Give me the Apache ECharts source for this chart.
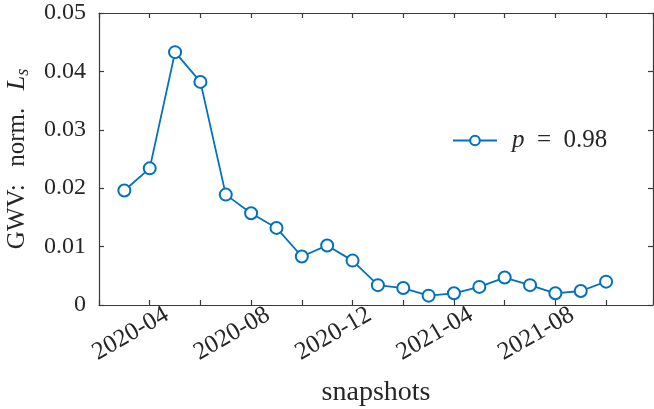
<!DOCTYPE html>
<html>
<head>
<meta charset="utf-8">
<script src="https://cdn.jsdelivr.net/npm/echarts@6/dist/echarts.min.js"></script>
<style>html,body{margin:0;padding:0;background:#fff}#c{width:654px;height:409px}</style>
</head>
<body>
<div id="c"></div>
<script>
// ---- data ----
var months = ['2020-03','2020-04','2020-05','2020-06','2020-07','2020-08','2020-09','2020-10','2020-11','2020-12',
              '2021-01','2021-02','2021-03','2021-04','2021-05','2021-06','2021-07','2021-08','2021-09','2021-10'];
var values = [0.0196,0.0234,0.0433,0.0382,0.0189,0.0157,0.0132,0.0083,0.0102,0.0076,
              0.0034,0.0029,0.0016,0.0020,0.0031,0.0047,0.0034,0.0020,0.0024,0.0040];
var tickLabels = ['2020-04','2020-08','2020-12','2021-04','2021-08'];
var yTicks = [0, 0.01, 0.02, 0.03, 0.04, 0.05];
var seriesName = 'p = 0.98';

// month index relative to 2020-02
function mIdx(s){ var p = s.split('-'); return (+p[0]-2020)*12 + (+p[1]) - 2; }
function mStr(i){ var t = i + 1; var y = 2020 + Math.floor(t/12); var m = t % 12 + 1; return y + '-' + (m<10?'0':'') + m; }

var seriesData = months.map(function(m,i){ return [mIdx(m), values[i]]; });
var XMIN = 0, XMAX = 21.85, SHIFT = 0.67;
var font = 'Liberation Serif';
var axCol = '#3a3a3a', txtCol = '#262626';

var chart = echarts.init(document.getElementById('c'), null, {renderer:'canvas'});
chart.setOption({
  animation:false,
  grid:{left:99, right:1, top:13, bottom:104, containLabel:false, outerBoundsMode:'none'},
  legend:{
    left:447, top:123, orient:'horizontal',
    itemWidth:44, itemHeight:12, itemGap:0,
    data:[seriesName],
    formatter:function(){ return '{i|p}{n|\u2002=\u20020.98}'; },
    textStyle:{padding:[0,0,0,10], rich:{
      i:{fontFamily:font, fontStyle:'italic', fontSize:25, color:txtCol},
      n:{fontFamily:font, fontSize:25, color:txtCol}
    }}
  },
  xAxis:[
    {type:'value', min:XMIN, max:XMAX, interval:2, position:'bottom',
     name:'snapshots', nameLocation:'middle', nameGap:74,
     nameTextStyle:{fontFamily:font, fontSize:28, color:txtCol},
     axisLine:{show:true, onZero:false, lineStyle:{color:axCol, width:1.2}},
     axisTick:{show:true, inside:true, length:5, lineStyle:{color:axCol, width:1.2}},
     axisLabel:{show:false}, splitLine:{show:false}},
    {type:'value', min:XMIN, max:XMAX, interval:2, position:'top',
     axisLine:{show:true, onZero:false, lineStyle:{color:axCol, width:1.2}},
     axisTick:{show:true, inside:true, length:5, lineStyle:{color:axCol, width:1.2}},
     axisLabel:{show:false}, splitLine:{show:false}},
    {type:'value', min:XMIN-SHIFT, max:XMAX-SHIFT, position:'bottom',
     axisLine:{show:false, onZero:false}, axisTick:{show:false}, splitLine:{show:false},
     axisLabel:{show:true, rotate:30, margin:8,
       customValues: tickLabels.map(mIdx),
       fontFamily:font, fontSize:25, color:txtCol,
       formatter:function(v){ return mStr(Math.round(v)); }}}
  ],
  yAxis:[
    {type:'value', min:yTicks[0], max:yTicks[yTicks.length-1], interval:0.01, position:'left',
     name:'{n|GWV:\u2002\u2009norm.\u2002\u2009}{i|L}{s|s}', nameLocation:'middle', nameGap:67, nameRotate:90,
     nameTextStyle:{rich:{
       n:{fontFamily:font, fontSize:25, color:txtCol},
       i:{fontFamily:font, fontStyle:'italic', fontSize:26, color:txtCol},
       s:{fontFamily:font, fontStyle:'italic', fontSize:18, color:txtCol, padding:[12,0,0,0]}
     }},
     axisLine:{show:true, onZero:false, lineStyle:{color:axCol, width:1.2}},
     axisTick:{show:true, inside:true, length:5, lineStyle:{color:axCol, width:1.2}},
     axisLabel:{show:true, margin:13, fontFamily:font, fontSize:24, color:txtCol,
       formatter:function(v){ return Math.abs(v)<1e-9 ? '0' : v.toFixed(2); }},
     splitLine:{show:false}},
    {type:'value', min:yTicks[0], max:yTicks[yTicks.length-1], interval:0.01, position:'right',
     axisLine:{show:true, onZero:false, lineStyle:{color:axCol, width:1.2}},
     axisTick:{show:true, inside:true, length:5, lineStyle:{color:axCol, width:1.2}},
     axisLabel:{show:false}, splitLine:{show:false}}
  ],
  series:[{
    name:seriesName, type:'line', xAxisIndex:0, yAxisIndex:0,
    data:seriesData, symbol:'emptyCircle', symbolSize:12,
    lineStyle:{color:'#0072BD', width:1.8},
    itemStyle:{color:'#0072BD', borderColor:'#0072BD', borderWidth:1.8},
    emphasis:{disabled:true}
  }]
});
</script>
</body>
</html>
